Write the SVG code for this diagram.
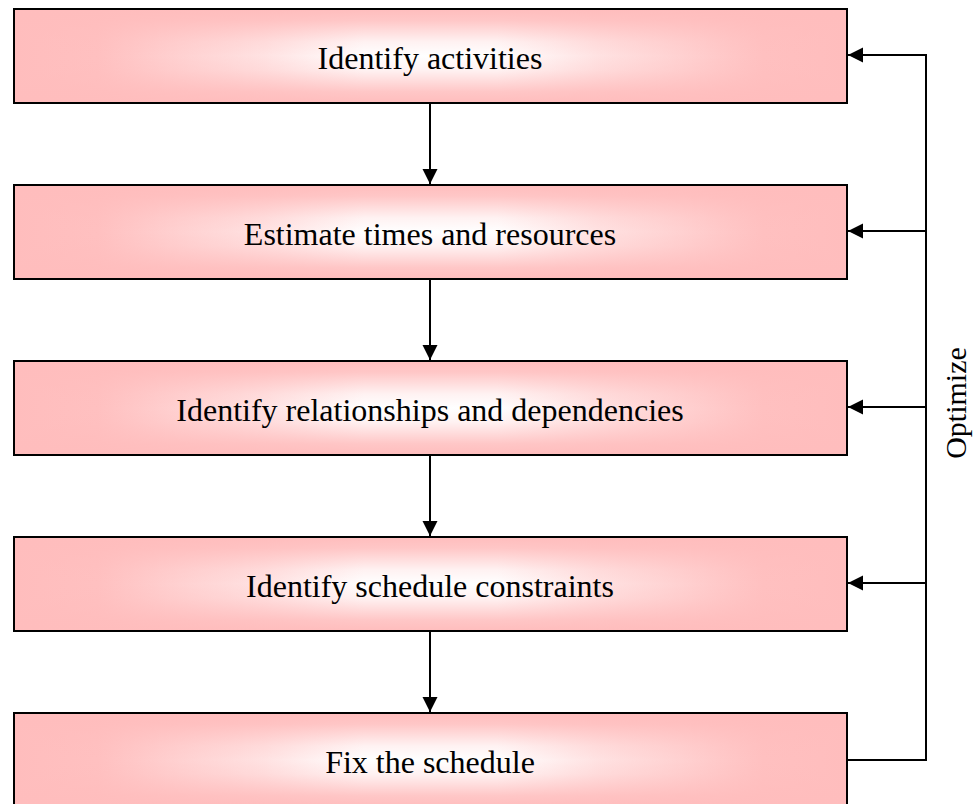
<svg xmlns="http://www.w3.org/2000/svg" width="974" height="804" viewBox="0 0 974 804">
  <style>
    .box { stroke: #000; stroke-width: 2; }
    .base { fill: url(#gx); }
    .shade { fill: url(#gy); }
    .frame { fill: none; stroke: #000; stroke-width: 2; }
    .label { font-family: "Liberation Serif", "Times New Roman", serif; font-size: 32px; fill: #000; text-anchor: middle; }
    .link { fill: none; stroke: #000; stroke-width: 2; }
  </style>
  <defs>
    <!-- horizontal pink-white-pink ramp -->
    <linearGradient id="gx" x1="0" y1="0" x2="1" y2="0">
      <stop offset="0" stop-color="#FFBDBD"/>
      <stop offset="0.1" stop-color="#FFC0C0"/>
      <stop offset="0.3" stop-color="#FFE2E2"/>
      <stop offset="0.42" stop-color="#FFFFFF"/>
      <stop offset="0.58" stop-color="#FFFFFF"/>
      <stop offset="0.7" stop-color="#FFE2E2"/>
      <stop offset="0.9" stop-color="#FFC0C0"/>
      <stop offset="1" stop-color="#FFBDBD"/>
    </linearGradient>
    <!-- vertical pink overlay that fades toward the middle -->
    <linearGradient id="gy" x1="0" y1="0" x2="0" y2="1">
      <stop offset="0" stop-color="#FFBDBD" stop-opacity="1"/>
      <stop offset="0.12" stop-color="#FFBDBD" stop-opacity="0.85"/>
      <stop offset="0.35" stop-color="#FFBDBD" stop-opacity="0.2"/>
      <stop offset="0.5" stop-color="#FFBDBD" stop-opacity="0"/>
      <stop offset="0.65" stop-color="#FFBDBD" stop-opacity="0.2"/>
      <stop offset="0.88" stop-color="#FFBDBD" stop-opacity="0.85"/>
      <stop offset="1" stop-color="#FFBDBD" stop-opacity="1"/>
    </linearGradient>
    <marker id="arrow" markerUnits="userSpaceOnUse" markerWidth="16" markerHeight="16" viewBox="0 0 16 16" refX="15" refY="8" orient="auto">
      <path d="M0,0.5 L15,8 L0,15.5 z" fill="#000"/>
    </marker>
  </defs>

  <rect width="974" height="804" fill="#fff"/>

  <g id="step1">
    <rect class="base" x="14" y="9" width="833" height="94"/>
    <rect class="shade" x="14" y="9" width="833" height="94"/>
    <rect class="frame" x="14" y="9" width="833" height="94"/>
    <text class="label" x="430" y="69">Identify activities</text>
  </g>

  <g id="step2">
    <rect class="base" x="14" y="185" width="833" height="94"/>
    <rect class="shade" x="14" y="185" width="833" height="94"/>
    <rect class="frame" x="14" y="185" width="833" height="94"/>
    <text class="label" x="430" y="245">Estimate times and resources</text>
  </g>

  <g id="step3">
    <rect class="base" x="14" y="361" width="833" height="94"/>
    <rect class="shade" x="14" y="361" width="833" height="94"/>
    <rect class="frame" x="14" y="361" width="833" height="94"/>
    <text class="label" x="430" y="421">Identify relationships and dependencies</text>
  </g>

  <g id="step4">
    <rect class="base" x="14" y="537" width="833" height="94"/>
    <rect class="shade" x="14" y="537" width="833" height="94"/>
    <rect class="frame" x="14" y="537" width="833" height="94"/>
    <text class="label" x="430" y="597">Identify schedule constraints</text>
  </g>

  <g id="step5">
    <rect class="base" x="14" y="713" width="833" height="94"/>
    <rect class="shade" x="14" y="713" width="833" height="94"/>
    <rect class="frame" x="14" y="713" width="833" height="94"/>
    <text class="label" x="430" y="773">Fix the schedule</text>
  </g>

  <g id="connectors">
    <!-- forward flow -->
    <line class="link" x1="430" y1="104" x2="430" y2="184" marker-end="url(#arrow)"/>
    <line class="link" x1="430" y1="280" x2="430" y2="360" marker-end="url(#arrow)"/>
    <line class="link" x1="430" y1="456" x2="430" y2="536" marker-end="url(#arrow)"/>
    <line class="link" x1="430" y1="632" x2="430" y2="712" marker-end="url(#arrow)"/>
    <!-- optimization feedback loop -->
    <polyline class="link" points="848,760 926,760 926,55"/>
    <line class="link" x1="927" y1="55" x2="848" y2="55" marker-end="url(#arrow)"/>
    <line class="link" x1="926" y1="231" x2="848" y2="231" marker-end="url(#arrow)"/>
    <line class="link" x1="926" y1="407" x2="848" y2="407" marker-end="url(#arrow)"/>
    <line class="link" x1="926" y1="583" x2="848" y2="583" marker-end="url(#arrow)"/>
  </g>

  <g id="loop-label">
    <text class="label" font-size="30" transform="translate(966,403) rotate(-90)" style="font-size:30px">Optimize</text>
  </g>
</svg>
